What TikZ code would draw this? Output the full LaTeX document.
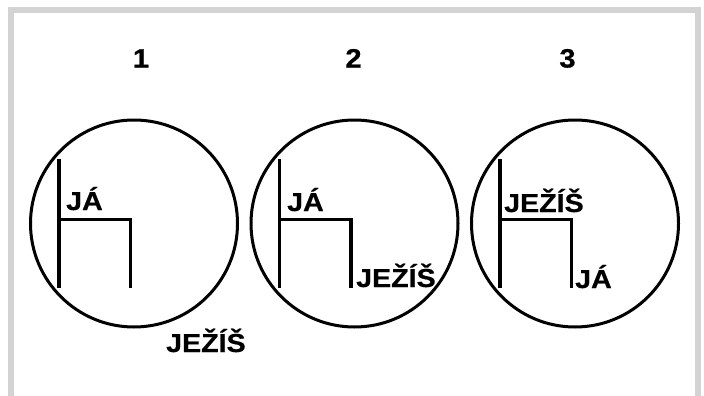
\documentclass[tikz,border=0pt]{standalone}
\usepackage{fontspec}
\newfontfamily\labfont[FakeStretch=1.1,BoldFeatures={FakeBold=0.6}]{Liberation Sans}
\definecolor{framegray}{HTML}{D3D3D3}
\tikzset{
  lab/.style={font=\labfont\fontsize{26}{28}\selectfont\bfseries, inner sep=0pt, anchor=base west},
  num/.style={font=\labfont\fontsize{26.5}{28}\selectfont\bfseries, inner sep=0pt, anchor=base},
  ring/.style={circle, draw, line width=3pt, minimum size=207pt, inner sep=0pt},
  chair/.style={line width=3.2pt},
}
\begin{document}
\begin{tikzpicture}[x=1pt,y=-1pt]
\useasboundingbox (0,0) rectangle (704,396);
\fill[white] (0,0) rectangle (704,396);
\begin{scope}
\clip (0,0) rectangle (704,396);
\draw[framegray, line width=6pt] (11,10.5) -- (697.8,10.5);
\draw[framegray, line width=6pt] (11,7.5) -- (11,400);
\draw[framegray, line width=6pt] (697.8,7.5) -- (697.8,400);
\end{scope}
% numbers
\node[num] (n1) at (141,67.5) {1};
\node[num] (n2) at (353.5,67.5) {2};
\node[num] (n3) at (567.5,67.5) {3};
% circles
\node[ring] (c1) at (134,223.5) {};
\node[ring] (c2) at (354.5,223.5) {};
\node[ring] (c3) at (575,223.5) {};
% chairs
\foreach \c in {c1,c2,c3}{
  \draw[chair] ([shift={(-75,-64.5)}]\c.center) -- ([shift={(-75,64.5)}]\c.center);
  \draw[chair, line join=miter] ([shift={(-75,-4)}]\c.center) -- ([shift={(-3.5,-4)}]\c.center) -- ([shift={(-3.5,64.5)}]\c.center);
}
% labels
\node[lab] (ja1) at (66,210) {JÁ};
\node[lab] (je1) at (166,352) {JEŽÍŠ};
\node[lab] (ja2) at (287,211) {JÁ};
\node[lab] (je2) at (356,287) {JEŽÍŠ};
\node[lab] (je3) at (504,212) {JEŽÍŠ};
\node[lab] (ja3) at (575,288) {JÁ};
\end{tikzpicture}
\end{document}
